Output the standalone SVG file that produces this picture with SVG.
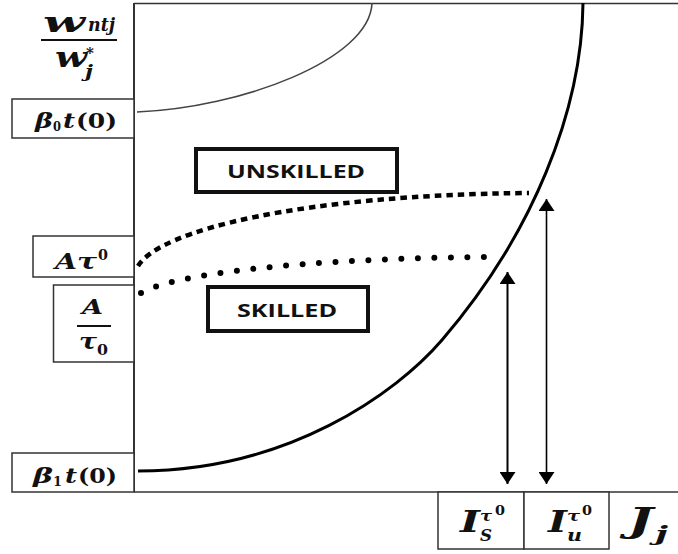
<svg xmlns="http://www.w3.org/2000/svg" width="678" height="554" viewBox="0 0 678 554">
<style>
.m{font-family:"DejaVu Serif","Liberation Serif",serif;font-weight:bold;font-style:italic;fill:#111}
.u{font-style:normal}
.lb{font-family:"Open Sans","Liberation Sans",sans-serif;font-weight:bold;fill:#111}
.box{fill:#fff;stroke:#333;stroke-width:1.5}
.tbox{fill:#fff;stroke:#111;stroke-width:4}
.ax{stroke:#333;fill:none}
</style>
<defs>
<marker id="ah" viewBox="0 0 12 16" refX="12" refY="8" markerWidth="12" markerHeight="16" markerUnits="userSpaceOnUse" orient="auto-start-reverse">
<path d="M0,0 L12,8 L0,16 z" fill="#000"/>
</marker>
</defs>
<rect width="678" height="554" fill="#fff"/>

<g id="frame">
<line class="ax" x1="134" y1="3.5" x2="678" y2="3.5" stroke-width="1.5" stroke="#555"/>
<line class="ax" x1="134" y1="492" x2="678" y2="492" stroke-width="1.5"/>
<line class="ax" x1="134" y1="3" x2="134" y2="492" stroke-width="2"/>
</g>

<g id="curves" fill="none">
<path d="M137,112 C240,108 370,60 372,3" stroke="#444" stroke-width="1.6"/>
<path d="M138,471 C288,471 396.5,393 442,340 C533,234 582,110 583,3" stroke="#000" stroke-width="3"/>
<path d="M138,266 C160,230 300,195 529,193" stroke="#000" stroke-width="4.5" stroke-dasharray="6.5 5"/>
<path d="M141,293 C170,275 300,258 493,257" stroke="#000" stroke-width="6" stroke-linecap="round" stroke-dasharray="0 16.5"/>
</g>

<g id="connectors" stroke="#000" fill="none">
<line x1="507.5" y1="272" x2="507.5" y2="484" stroke-width="2" marker-start="url(#ah)" marker-end="url(#ah)"/>
<line x1="546.5" y1="199" x2="546.5" y2="484" stroke-width="1.6" marker-start="url(#ah)" marker-end="url(#ah)"/>
</g>

<g id="ylabel">
<text class="m" x="43" y="32" font-size="28" textLength="42" lengthAdjust="spacingAndGlyphs">w</text>
<text class="m" x="88" y="31" font-size="18" textLength="27" lengthAdjust="spacingAndGlyphs">ntj</text>
<line x1="41" y1="40" x2="117" y2="40" stroke="#111" stroke-width="2"/>
<text class="m" x="55" y="67" font-size="28" textLength="32" lengthAdjust="spacingAndGlyphs">w</text>
<text class="m" x="85" y="77" font-size="17" textLength="8" lengthAdjust="spacingAndGlyphs">j</text>
<text class="m u" x="86" y="58" font-size="15">*</text>
</g>

<g id="beta0">
<rect class="box" x="12" y="99" width="122" height="39"/>
<text class="m" x="35" y="128" font-size="20" textLength="18" lengthAdjust="spacingAndGlyphs">β</text>
<text class="m u" x="53" y="131" font-size="13" textLength="8" lengthAdjust="spacingAndGlyphs">0</text>
<text class="m" x="63" y="128" font-size="20" textLength="12" lengthAdjust="spacingAndGlyphs">t</text>
<text class="m u" x="76" y="128" font-size="20" textLength="41" lengthAdjust="spacingAndGlyphs">(0)</text>
</g>

<g id="Atau0">
<rect class="box" x="33" y="236" width="101" height="41"/>
<text class="m" x="55" y="269" font-size="22" textLength="22" lengthAdjust="spacingAndGlyphs">A</text>
<text class="m" x="77" y="269" font-size="22" textLength="20" lengthAdjust="spacingAndGlyphs">τ</text>
<text class="m u" x="98" y="260" font-size="14" textLength="10" lengthAdjust="spacingAndGlyphs">0</text>
</g>

<g id="Aovertau">
<rect class="box" x="53.5" y="285" width="80.5" height="77"/>
<text class="m" x="82" y="314" font-size="20" textLength="21" lengthAdjust="spacingAndGlyphs">A</text>
<line x1="77" y1="326" x2="111" y2="326" stroke="#111" stroke-width="2"/>
<text class="m" x="79" y="349" font-size="22" textLength="18" lengthAdjust="spacingAndGlyphs">τ</text>
<text class="m u" x="97" y="355" font-size="14" textLength="11" lengthAdjust="spacingAndGlyphs">0</text>
</g>

<g id="beta1">
<rect class="box" x="12" y="453" width="122" height="39"/>
<text class="m" x="33" y="482.5" font-size="20" textLength="20" lengthAdjust="spacingAndGlyphs">β</text>
<text class="m u" x="53" y="486" font-size="13" textLength="9" lengthAdjust="spacingAndGlyphs">1</text>
<text class="m" x="65" y="482.5" font-size="20" textLength="12" lengthAdjust="spacingAndGlyphs">t</text>
<text class="m u" x="78" y="482.5" font-size="20" textLength="39" lengthAdjust="spacingAndGlyphs">(0)</text>
</g>

<g id="unskilled">
<rect class="tbox" x="196" y="149" width="201" height="43"/>
<text class="lb" x="227" y="178.3" font-size="18.5" textLength="138" lengthAdjust="spacingAndGlyphs">UNSKILLED</text>
</g>

<g id="skilled">
<rect class="tbox" x="208" y="287" width="160" height="44"/>
<text class="lb" x="237" y="316.7" font-size="18.5" textLength="100" lengthAdjust="spacingAndGlyphs">SKILLED</text>
</g>

<g id="IS">
<rect class="box" x="438" y="492" width="86" height="57"/>
<text class="m" x="460" y="532" font-size="30" textLength="20" lengthAdjust="spacingAndGlyphs">I</text>
<text class="m" x="480" y="521" font-size="15" textLength="12" lengthAdjust="spacingAndGlyphs">τ</text>
<text class="m u" x="495" y="515" font-size="13" textLength="10" lengthAdjust="spacingAndGlyphs">0</text>
<text class="m" x="480" y="541" font-size="16" textLength="12" lengthAdjust="spacingAndGlyphs">S</text>
</g>

<g id="Iu">
<rect class="box" x="524" y="492" width="85" height="57"/>
<text class="m" x="548" y="532" font-size="30" textLength="19" lengthAdjust="spacingAndGlyphs">I</text>
<text class="m" x="567" y="521" font-size="15" textLength="13" lengthAdjust="spacingAndGlyphs">τ</text>
<text class="m u" x="582" y="515" font-size="13" textLength="10" lengthAdjust="spacingAndGlyphs">0</text>
<text class="m" x="567" y="541" font-size="17" textLength="15" lengthAdjust="spacingAndGlyphs">u</text>
</g>

<g id="xlabel">
<text class="m" x="628" y="532" font-size="33" textLength="25" lengthAdjust="spacingAndGlyphs">J</text>
<text class="m" x="655" y="541" font-size="20" textLength="13" lengthAdjust="spacingAndGlyphs">j</text>
</g>
</svg>
